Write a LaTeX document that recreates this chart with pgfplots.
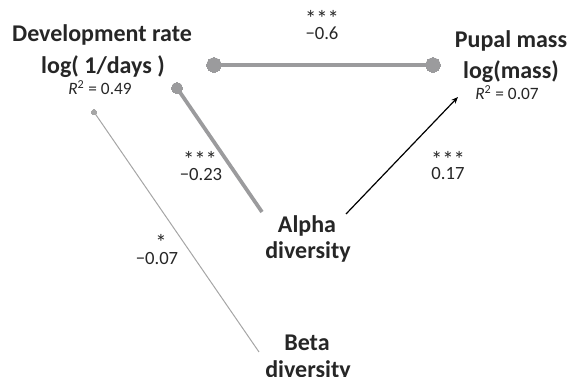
\documentclass[border=0pt]{standalone}
\usepackage{pgfplots}
\pgfplotsset{compat=1.18}
\usepackage{fontspec}
\setmainfont{Carlito}
\usetikzlibrary{arrows.meta}
\definecolor{gthick}{HTML}{9B9B9D}
\definecolor{gthin}{HTML}{A6A6A6}
\definecolor{txt}{HTML}{262626}
\begin{document}
\begin{tikzpicture}
\begin{axis}[
  scale only axis, width=426.75pt, height=282.75pt,
  xmin=0, xmax=569, ymin=0, ymax=377, y dir=reverse,
  axis lines=none, clip=false,
]
% Development rate -- Pupal mass
\addplot[color=gthick, line width=3.6pt, mark=*, mark size=5.5pt, mark options={fill=gthick, draw=gthick, line width=0pt}] coordinates {(214,65) (433,65)};
% Alpha -- Development rate
\addplot[color=gthick, line width=2.8pt, mark=*, mark indices={1}, mark size=4.2pt, mark options={fill=gthick, draw=gthick, line width=0pt}] coordinates {(177,88) (262,212)};
% Beta -- Development rate
\addplot[color=gthin, line width=0.75pt, mark=*, mark indices={1}, mark size=1.9pt, mark options={fill=gthin, draw=gthin, line width=0pt}] coordinates {(94,112) (259,352)};
% Alpha -> Pupal mass
\addplot[color=black, line width=0.9pt, -{Stealth[length=5pt,width=4pt]}] coordinates {(346,214) (458,97)};

\begin{scope}[every node/.style={text=txt, align=center, inner sep=0pt}]
\node[font=\fontsize{18}{22}\selectfont\bfseries] at (axis cs:102,35) {Development rate};
\node[font=\fontsize{18}{22}\selectfont\bfseries] at (axis cs:103,67) {log( 1/days )};
\node[font=\fontsize{13}{15}\selectfont] at (axis cs:100,88) {\textit{R}\textsuperscript{2} = 0.49};
\node[font=\fontsize{18}{22}\selectfont\bfseries] at (axis cs:511,41) {Pupal mass};
\node[font=\fontsize{18}{22}\selectfont\bfseries] at (axis cs:511,72) {log(mass)};
\node[font=\fontsize{13}{15}\selectfont] at (axis cs:507,93) {\textit{R}\textsuperscript{2} = 0.07};
\node[font=\fontsize{18}{22}\selectfont\bfseries] at (axis cs:307,226) {Alpha};
\node[font=\fontsize{18}{22}\selectfont\bfseries] at (axis cs:308,252) {diversity};
\node[font=\fontsize{18}{22}\selectfont\bfseries] at (axis cs:307,343) {Beta};
\node[font=\fontsize{18}{22}\selectfont\bfseries] at (axis cs:308,371) {diversity};
\node[font=\fontsize{17}{17}\selectfont] at (axis cs:322,18) {***};
\node[font=\fontsize{14}{17}\selectfont] at (axis cs:322,33) {−0.6};
\node[font=\fontsize{17}{17}\selectfont] at (axis cs:448,159) {***};
\node[font=\fontsize{14}{17}\selectfont] at (axis cs:448,174) {0.17};
\node[font=\fontsize{17}{17}\selectfont] at (axis cs:200,159) {***};
\node[font=\fontsize{14}{17}\selectfont] at (axis cs:201,175) {−0.23};
\node[font=\fontsize{17}{17}\selectfont] at (axis cs:161,242) {*};
\node[font=\fontsize{14}{17}\selectfont] at (axis cs:157,259) {−0.07};
\end{scope}
\end{axis}
\pgfresetboundingbox
\path (current axis.south west) rectangle (current axis.north east);
\end{tikzpicture}
\end{document}
